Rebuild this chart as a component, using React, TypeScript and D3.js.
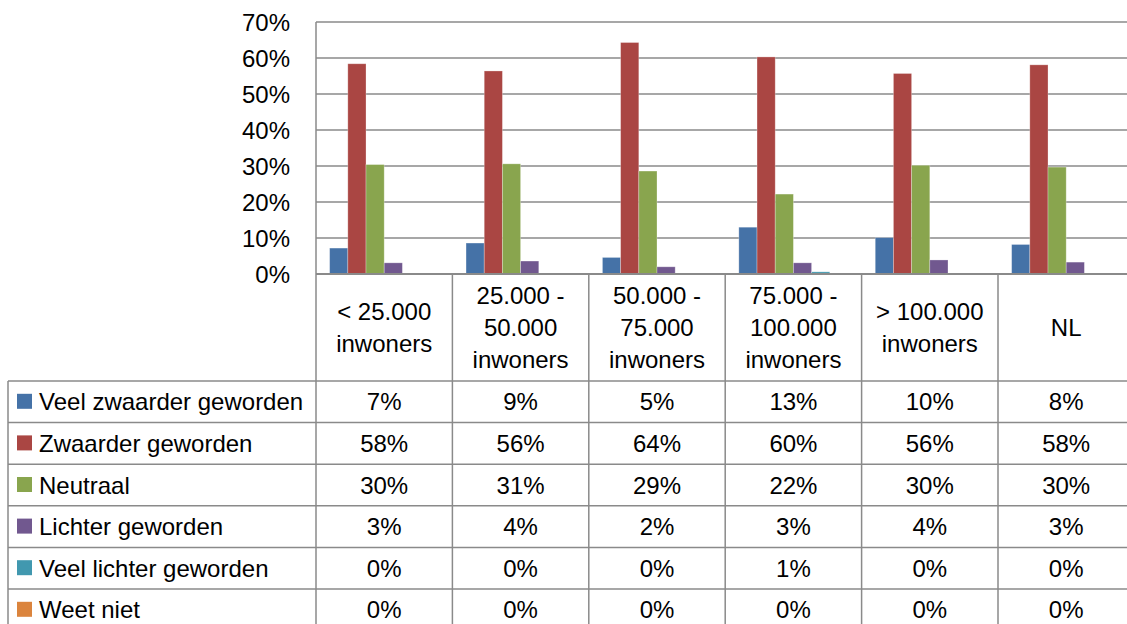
import React from 'react';
import * as d3 from 'd3';

const categories: string[][] = [
  ['< 25.000', 'inwoners'],
  ['25.000 -', '50.000', 'inwoners'],
  ['50.000 -', '75.000', 'inwoners'],
  ['75.000 -', '100.000', 'inwoners'],
  ['> 100.000', 'inwoners'],
  ['NL'],
];

const seriesNames = [
  'Veel zwaarder geworden',
  'Zwaarder geworden',
  'Neutraal',
  'Lichter geworden',
  'Veel lichter geworden',
  'Weet niet',
];

const veelZwaarder = [7.2, 8.6, 4.6, 13.0, 10.1, 8.2];
const zwaarder = [58.4, 56.4, 64.3, 60.3, 55.7, 58.1];
const neutraal = [30.4, 30.6, 28.6, 22.2, 30.2, 29.7];
const lichter = [3.1, 3.6, 2.0, 3.1, 3.9, 3.3];
const veelLichter = [0, 0, 0, 0.6, 0, 0];
const weetNiet = [0, 0, 0, 0, 0, 0];

const seriesValues = [veelZwaarder, zwaarder, neutraal, lichter, veelLichter, weetNiet];
const seriesColors = ['#4572A7', '#AA4643', '#89A54E', '#71588F', '#4198AF', '#DB843D'];

const yTicks = [0, 10, 20, 30, 40, 50, 60, 70];

const FONT = "'Liberation Sans', Arial, sans-serif";
const FS = 24;
const LINE = '#8a8a8a';

export default function App() {
  const W = 1127;
  const H = 624;
  const plotL = 316;
  const plotR = 1134.4;
  const plotT = 22;
  const plotB = 274;
  const tableTop = 381;
  const rowH = 41.6;
  const tableLeft = 8;

  const idx = d3.range(categories.length);
  const x0 = d3.scaleBand<number>().domain(idx).range([plotL, plotR]).padding(0);
  const x1 = d3
    .scaleBand<number>()
    .domain(d3.range(seriesNames.length))
    .range([0, x0.bandwidth()])
    .paddingInner(0)
    .paddingOuter(0.75);
  const y = d3.scaleLinear().domain([0, 70]).range([plotB, plotT]);
  const fmt = (v: number) => `${Math.round(v)}%`;

  const colEdges = d3.range(categories.length + 1).map((i) => plotL + i * x0.step());

  return (
    <svg
      width={W}
      height={H}
      style={{ position: 'absolute', left: 0, top: 0, background: '#fff' }}
      fontFamily={FONT}
      fontSize={FS}
    >
      <rect x={0} y={0} width={W} height={H} fill="#fff" />
      {/* gridlines */}
      {yTicks.map((t) => (
        <line key={'g' + t} x1={plotL} x2={plotR} y1={y(t)} y2={y(t)} stroke={LINE} strokeWidth={1.5} />
      ))}
      {/* y tick labels */}
      {yTicks.map((t) => (
        <text key={'yl' + t} x={290} y={y(t)} textAnchor="end" dominantBaseline="central" fill="#000">
          {`${t}%`}
        </text>
      ))}
      {/* bars */}
      {idx.map((ci) =>
        seriesValues.map((vals, si) =>
          vals[ci] > 0 ? (
            <rect
              key={`b${ci}-${si}`}
              x={(x0(ci) as number) + (x1(si) as number)}
              y={y(vals[ci])}
              width={x1.bandwidth()}
              height={plotB - y(vals[ci])}
              fill={seriesColors[si]}
              stroke="rgba(255,255,255,0.35)"
              strokeWidth={0.8}
            />
          ) : null
        )
      )}
      {/* axis line / baseline */}
      <line x1={plotL} x2={plotR} y1={plotB} y2={plotB} stroke={LINE} strokeWidth={2} />
      {/* column dividers */}
      {colEdges.map((xe, i) => (
        <line
          key={'v' + i}
          x1={xe}
          x2={xe}
          y1={i === 0 ? plotT : plotB}
          y2={H}
          stroke={LINE}
          strokeWidth={1.5}
        />
      ))}
      {/* table left border */}
      <line x1={tableLeft} x2={tableLeft} y1={tableTop} y2={H} stroke={LINE} strokeWidth={1.5} />
      {/* table horizontal lines */}
      {d3.range(seriesNames.length + 1).map((r) => (
        <line
          key={'h' + r}
          x1={tableLeft}
          x2={W}
          y1={tableTop + r * rowH}
          y2={tableTop + r * rowH}
          stroke={LINE}
          strokeWidth={1.5}
        />
      ))}
      {/* category labels */}
      {categories.map((lines, ci) => {
        const cx = (x0(ci) as number) + x0.bandwidth() / 2;
        const mid = (plotB + tableTop) / 2;
        const lh = 32;
        return (
          <text key={'c' + ci} textAnchor="middle" fill="#000">
            {lines.map((ln, li) => (
              <tspan
                key={li}
                x={cx}
                y={mid + (li - (lines.length - 1) / 2) * lh}
                dominantBaseline="central"
              >
                {ln}
              </tspan>
            ))}
          </text>
        );
      })}
      {/* legend rows + values */}
      {seriesNames.map((name, si) => {
        const cy = tableTop + si * rowH + rowH / 2;
        return (
          <g key={'r' + si}>
            <rect x={17} y={cy - 8} width={15} height={15} fill={seriesColors[si]} />
            <text x={39} y={cy} dominantBaseline="central" fill="#000">
              {name}
            </text>
            {idx.map((ci) => (
              <text
                key={'t' + ci}
                x={(x0(ci) as number) + x0.bandwidth() / 2}
                y={cy}
                textAnchor="middle"
                dominantBaseline="central"
                fill="#000"
              >
                {fmt(seriesValues[si][ci])}
              </text>
            ))}
          </g>
        );
      })}
    </svg>
  );
}
